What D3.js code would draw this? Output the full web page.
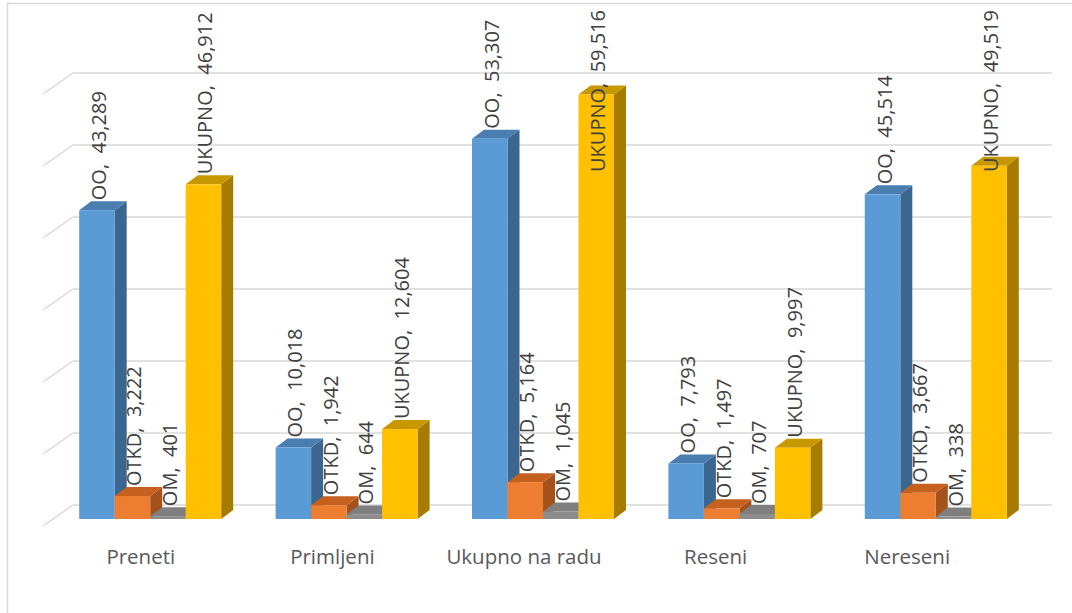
<!DOCTYPE html>
<html>
<head>
<meta charset="utf-8">
<script src="https://cdn.jsdelivr.net/npm/d3@7"></script>
<style>
  html, body { margin: 0; padding: 0; background: #fff; }
  svg { display: block; }
  text { font-family: "Open Sans", "DejaVu Sans", sans-serif; }
</style>
</head>
<body>
<svg id="chart" width="1072" height="613"></svg>
<script>
// ---- data ----
const categories = ["Preneti", "Primljeni", "Ukupno na radu", "Reseni", "Nereseni"];
const seriesNames = ["OO", "OTKD", "OM", "UKUPNO"];
const valuesOO = [43289, 10018, 53307, 7793, 45514];
const valuesOTKD = [3222, 1942, 5164, 1497, 3667];
const valuesOM = [401, 644, 1045, 707, 338];
const valuesUKUPNO = [46912, 12604, 59516, 9997, 49519];
const gridTicks = [0, 10000, 20000, 30000, 40000, 50000, 60000];

const seriesValues = [valuesOO, valuesOTKD, valuesOM, valuesUKUPNO];
const colors = {
  OO:     { front: "#5B9BD5", side: "#3A6690", top: "#4A7DB0" },
  OTKD:   { front: "#ED7D31", side: "#A4521C", top: "#C5601E" },
  OM:     { front: "#8C8C8C", side: "#6E6E6E", top: "#7F7F7F" },
  UKUPNO: { front: "#FFC000", side: "#A67C00", top: "#C89800" }
};

const svg = d3.select("#chart");
const fmt = d3.format(",");

// frame
svg.append("rect").attr("x", 7.5).attr("y", 3.5).attr("width", 1100).attr("height", 700)
  .attr("fill", "none").attr("stroke", "#d9d9d9").attr("stroke-width", 1.5);

// scales
const y = d3.scaleLinear().domain([0, 60000]).range([519, 91]);
const yBack = d3.scaleLinear().domain([0, 60000]).range([505, 73]);
const xGroup = d3.scaleBand().domain(categories).range([52, 1034]).paddingInner(0).paddingOuter(0);
const xLabel = d3.scaleBand().domain(categories).range([45, 1003]);
const barW = 35.5;
const depthX = 12, depthY = 9;

// back wall gridlines + side wall diagonals
const grid = svg.append("g");
gridTicks.forEach(t => {
  const yy = yBack(t);
  grid.append("line").attr("x1", 73).attr("x2", 1052).attr("y1", yy).attr("y2", yy)
    .attr("stroke", "#d9d9d9").attr("stroke-width", 1.5);
  grid.append("line").attr("x1", 43).attr("x2", 73).attr("y1", yy + 21).attr("y2", yy)
    .attr("stroke", "#d9d9d9").attr("stroke-width", 1.5);
});

// bars
const bars = svg.append("g");
const labels = svg.append("g");
categories.forEach((cat, ci) => {
  const gx = xGroup(cat) + (xGroup.bandwidth() - barW * 4) / 2;
  seriesNames.forEach((s, si) => {
    const v = seriesValues[si][ci];
    const x0 = gx + si * barW;
    const x1 = x0 + barW;
    const yt = y(v), yb = y(0);
    const c = colors[s];
    // side face
    bars.append("path")
      .attr("d", `M${x1},${yt}L${x1 + depthX},${yt - depthY}L${x1 + depthX},${yb - depthY}L${x1},${yb}Z`)
      .attr("fill", c.side);
    // top face
    bars.append("path")
      .attr("d", `M${x0},${yt}L${x0 + depthX},${yt - depthY}L${x1 + depthX},${yt - depthY}L${x1},${yt}Z`)
      .attr("fill", c.top);
    // front face
    bars.append("rect").attr("x", x0).attr("y", yt).attr("width", barW).attr("height", yb - yt)
      .attr("fill", c.front);

    // data label
    const cx = x0 + barW / 2 + 2;
    const t = labels.append("text")
      .attr("transform", `translate(${cx},0) rotate(-90)`)
      .attr("dy", "0.35em")
      .attr("fill", "#404040")
      .attr("font-size", 20)
      .style("white-space", "pre")
      .text(`${s},  ${fmt(v)}`);
    const len = t.node().getComputedTextLength();
    const start = Math.max(yt - 10, len + 10);
    t.attr("x", -start).attr("y", 0);
  });
});

// category labels
svg.append("g").selectAll("text").data(categories).join("text")
  .attr("x", d => xLabel(d) + xLabel.bandwidth() / 2)
  .attr("y", 564)
  .attr("text-anchor", "middle")
  .attr("fill", "#595959")
  .attr("font-size", 20.5)
  .text(d => d);
</script>
</body>
</html>
